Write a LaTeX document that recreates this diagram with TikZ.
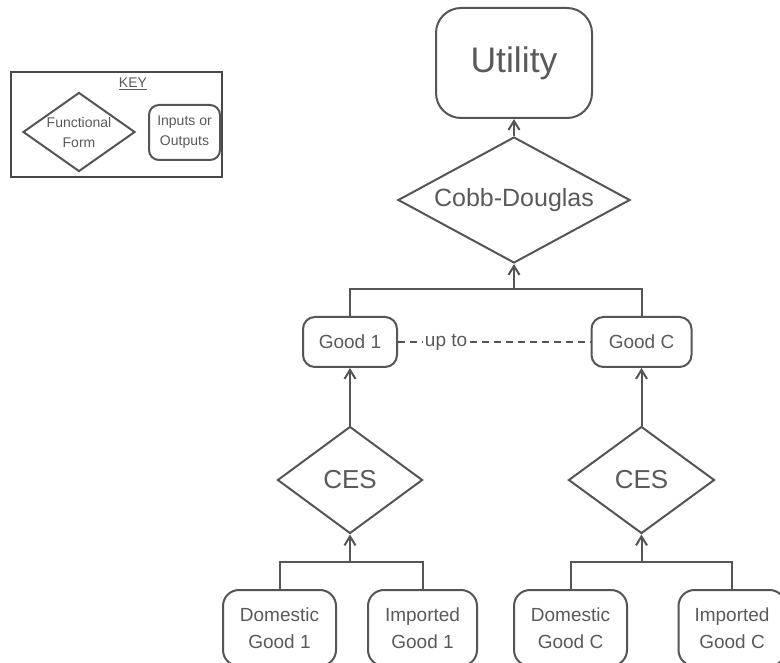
\documentclass[tikz,border=0pt]{standalone}
\usepackage{fontspec}
\setmainfont{Liberation Sans}
\usetikzlibrary{shapes.geometric,arrows.meta}
\definecolor{ink}{HTML}{555555}
\definecolor{txt}{HTML}{5A5A5A}
\begin{document}
\begin{tikzpicture}[x=1pt,y=-1pt,
  line width=2pt, draw=ink, text=txt,
  box/.style={draw=ink, rectangle, rounded corners=12pt, inner sep=0pt, align=center, fill=white},
  func/.style={draw=ink, diamond, inner sep=0pt, align=center, fill=white},
  arr/.style={-{Straight Barb[length=9pt,width=11pt,line width=2pt]}},
  lbl/.style={font=\fontsize{19}{27}\selectfont}
]
\clip (0,0) rectangle (780,663);
\fill[white] (0,0) rectangle (780,663);

% key
\node[draw=ink!85!black, line width=2.6pt, rectangle, minimum width=211pt, minimum height=105pt, inner sep=0pt] (key) at (116.5,124.5) {};
\node[font=\fontsize{14}{16}\selectfont] (keyt) at (133,84) {\underline{KEY}};
\node[func, aspect=1.45, minimum width=112pt, minimum height=79pt, fill=none, font=\fontsize{14}{20}\selectfont] (kf) at (79,132) {Functional\\Form};
\node[box, rounded corners=10pt, minimum width=71pt, minimum height=55pt, font=\fontsize{14}{20}\selectfont] (kb) at (184.5,132.5) {Inputs or\\Outputs};

% main hierarchy
\node[box, rounded corners=25pt, minimum width=156pt, minimum height=110pt, font=\fontsize{35.5}{40}\selectfont] (util) at (514,63) {Utility};
\node[func, aspect=1.84, minimum width=232pt, minimum height=126pt, font=\fontsize{25}{28}\selectfont] (cd) at (514,200) {Cobb-Douglas};

\node[box, minimum width=94pt, minimum height=50pt, lbl] (g1) at (350,342) {Good 1};
\node[box, minimum width=100pt, minimum height=50pt, lbl] (gc) at (641.5,342) {Good C};

\node[func, aspect=1.36, minimum width=145pt, minimum height=107pt, font=\fontsize{26}{30}\selectfont] (cesl) at (350,480) {CES};
\node[func, aspect=1.36, minimum width=146pt, minimum height=107pt, font=\fontsize{26}{30}\selectfont] (cesr) at (641.5,480) {CES};

\node[box, rounded corners=16pt, minimum width=113pt, minimum height=76pt, lbl] (d1) at (279.5,628) {Domestic\\Good 1};
\node[box, rounded corners=16pt, minimum width=109pt, minimum height=76pt, lbl] (i1) at (422.5,628) {Imported\\Good 1};
\node[box, rounded corners=16pt, minimum width=113pt, minimum height=76pt, lbl] (dc) at (570.5,628) {Domestic\\Good C};
\node[box, rounded corners=16pt, minimum width=107pt, minimum height=76pt, lbl] (ic) at (732,628) {Imported\\Good C};

% junction points of the branch bars
\coordinate (jt) at (514,289);
\coordinate (jl) at (350,562);
\coordinate (jr) at (641.5,562);

% connectors
\draw[arr] (cd.north) -- (util.south);
\draw (g1.north) |- (jt) -| (gc.north);
\draw[arr] (jt) -- (cd.south);

\draw[arr] (cesl.north) -- (g1.south);
\draw[arr] (cesr.north) -- (gc.south);

\draw (d1.north) |- (jl) -| (i1.north);
\draw[arr] (jl) -- (cesl.south);
\draw (dc.north) |- (jr) -| (ic.north);
\draw[arr] (jr) -- (cesr.south);

\draw[line width=1.2pt, dash pattern=on 7pt off 5pt] (g1.east) -- node[pos=0.25, fill=white, inner sep=2pt, lbl] (upto) {up to} (gc.west);
\end{tikzpicture}
\end{document}
